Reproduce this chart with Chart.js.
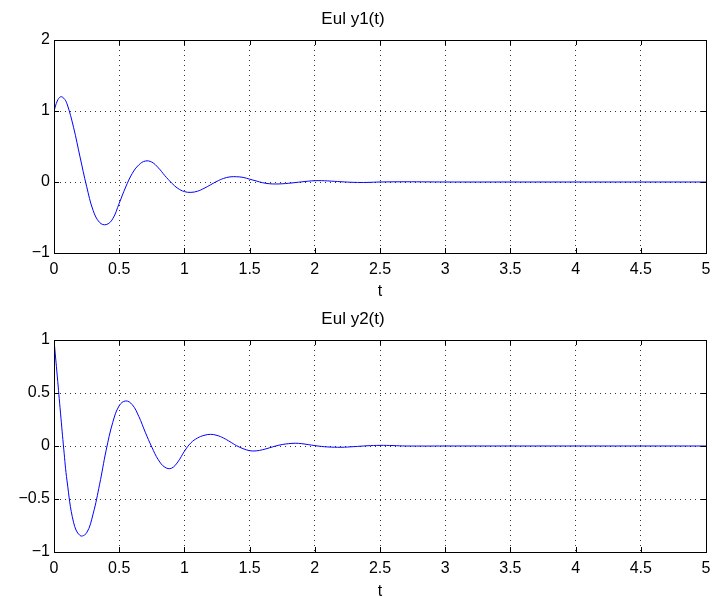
<!DOCTYPE html>
<html>
<head>
<meta charset="utf-8">
<script src="https://cdn.jsdelivr.net/npm/chart.js@4"></script>
<style>
  html, body { margin: 0; padding: 0; background: #fff; overflow: hidden; }
  .box { position: absolute; left: 0; width: 712px; height: 300px; }
</style>
</head>
<body>
<div class="box" style="top:0px"><canvas id="c1"></canvas></div>
<div class="box" style="top:300px"><canvas id="c2"></canvas></div>
<script>
// y1(t)
const t1 = [0, 0.025, 0.05, 0.075, 0.1, 0.15, 0.2, 0.25, 0.3, 0.35, 0.4, 0.45, 0.5, 0.55, 0.6, 0.65, 0.7, 0.75, 0.8, 0.85, 0.9, 0.95, 1.0, 1.05, 1.1, 1.15, 1.2, 1.25, 1.3, 1.35, 1.4, 1.45, 1.5, 1.55, 1.6, 1.65, 1.7, 1.75, 1.8, 1.85, 1.9, 1.95, 2.0, 2.05, 2.1, 2.2, 2.3, 2.4, 2.5, 2.7, 3, 3.5, 4, 4.5, 5];
const y1 = [1.0, 1.14, 1.2, 1.18, 1.1, 0.77, 0.35, -0.06, -0.4, -0.57, -0.6, -0.52, -0.3, -0.07, 0.12, 0.24, 0.295, 0.28, 0.2, 0.09, -0.01, -0.09, -0.135, -0.146, -0.13, -0.09, -0.04, 0.01, 0.05, 0.072, 0.074, 0.065, 0.04, 0.015, -0.01, -0.024, -0.028, -0.025, -0.018, -0.008, 0.002, 0.012, 0.018, 0.019, 0.015, 0.004, -0.005, -0.006, 0.0, 0.003, 0, 0, 0, 0, 0];

// y2(t)
const t2 = [0, 0.025, 0.05, 0.075, 0.1, 0.15, 0.2, 0.25, 0.3, 0.35, 0.4, 0.45, 0.5, 0.55, 0.6, 0.65, 0.7, 0.75, 0.8, 0.85, 0.9, 0.95, 1.0, 1.05, 1.1, 1.15, 1.2, 1.25, 1.3, 1.35, 1.4, 1.45, 1.5, 1.55, 1.6, 1.65, 1.7, 1.75, 1.8, 1.85, 1.9, 1.95, 2.0, 2.05, 2.1, 2.2, 2.3, 2.4, 2.5, 2.6, 2.7, 3, 3.5, 4, 4.5, 5];
const y2 = [1.0, 0.66, 0.31, -0.03, -0.33, -0.72, -0.845, -0.82, -0.64, -0.36, -0.04, 0.22, 0.38, 0.425, 0.39, 0.28, 0.13, -0.01, -0.13, -0.2, -0.21, -0.15, -0.05, 0.03, 0.075, 0.1, 0.11, 0.1, 0.075, 0.04, 0.003, -0.025, -0.044, -0.046, -0.035, -0.018, 0.0, 0.014, 0.022, 0.026, 0.022, 0.013, 0.004, -0.004, -0.009, -0.012, -0.006, 0.002, 0.006, 0.004, 0.0, 0, 0, 0, 0, 0];

const xTicks = [0, 0.5, 1, 1.5, 2, 2.5, 3, 3.5, 4, 4.5, 5];
const y1Ticks = [-1, 0, 1, 2];
const y2Ticks = [-1, -0.5, 0, 0.5, 1];

Chart.defaults.font.family = "'Liberation Sans', Arial, sans-serif";
Chart.defaults.color = "#000";

function fmt(v) {
    return v < 0 ? "\u2212" + (-v) : String(v);
}

// matlab-style box with ticks pointing inward
const boxPlugin = {
    id: "box",
    afterDraw(chart) {
        let ctx = chart.ctx;
        let a = chart.chartArea;
        let xs = chart.scales.x, ys = chart.scales.y;
        ctx.save();
        ctx.strokeStyle = "#000";
        ctx.lineWidth = 1;
        ctx.strokeRect(Math.round(a.left) + 0.5, Math.round(a.top) + 0.5, Math.round(a.right - a.left), Math.round(a.bottom - a.top));
        ctx.beginPath();
        xs.ticks.forEach(function (t) {
            let px = Math.round(xs.getPixelForValue(t.value)) + 0.5;
            ctx.moveTo(px, a.bottom); ctx.lineTo(px, a.bottom - 5);
            ctx.moveTo(px, a.top); ctx.lineTo(px, a.top + 5);
        });
        ys.ticks.forEach(function (t) {
            let py = Math.round(ys.getPixelForValue(t.value)) + 0.5;
            ctx.moveTo(a.left, py); ctx.lineTo(a.left + 5, py);
            ctx.moveTo(a.right, py); ctx.lineTo(a.right - 5, py);
        });
        ctx.stroke();
        ctx.restore();
    }
};

function makeChart(id, title, ts, ys, yTicks, xAxisHeight) {
    let ctx = document.getElementById(id).getContext("2d");
    return new Chart(ctx, {
        type: "line",
        data: {
            datasets: [{
                data: ts.map(function (t, i) { return { x: t, y: ys[i] }; }),
                borderColor: "#0000ff",
                borderWidth: 1,
                pointRadius: 0,
                tension: 0.4,
                fill: false
            }]
        },
        options: {
            responsive: true,
            maintainAspectRatio: false,
            animation: false,
            layout: { padding: { left: 0, right: 6, top: 0, bottom: 0 } },
            plugins: {
                legend: { display: false },
                tooltip: { enabled: false },
                title: {
                    display: true,
                    text: title,
                    font: { size: 17, weight: "normal" },
                    color: "#000",
                    padding: { top: 9, bottom: 10.6 }
                }
            },
            scales: {
                x: {
                    type: "linear",
                    min: 0,
                    max: 5,
                    afterBuildTicks: function (s) { s.ticks = xTicks.map(function (v) { return { value: v }; }); },
                    afterFit: function (s) { s.height = xAxisHeight; s.paddingRight = 0; s.paddingLeft = 0; },
                    ticks: { font: { size: 16 }, padding: 7, maxRotation: 0, callback: fmt },
                    grid: { color: "rgba(0,0,0,0.8)", drawTicks: false },
                    border: { color: "#000", dash: [1, 4] },
                    title: { display: true, text: "t", font: { size: 16, lineHeight: 1 }, padding: 0 }
                },
                y: {
                    min: yTicks[0],
                    max: yTicks[yTicks.length - 1],
                    afterBuildTicks: function (s) { s.ticks = yTicks.map(function (v) { return { value: v }; }); },
                    afterFit: function (s) { s.width = 54; },
                    ticks: { font: { size: 16 }, padding: 4, callback: fmt },
                    grid: { color: "rgba(0,0,0,0.8)", drawTicks: false },
                    border: { color: "#000", dash: [1, 4] }
                }
            }
        },
        plugins: [boxPlugin]
    });
}

makeChart("c1", "Eul y1(t)", t1, y1, y1Ticks, 47);
makeChart("c2", "Eul y2(t)", t2, y2, y2Ticks, 48);
</script>
</body>
</html>
